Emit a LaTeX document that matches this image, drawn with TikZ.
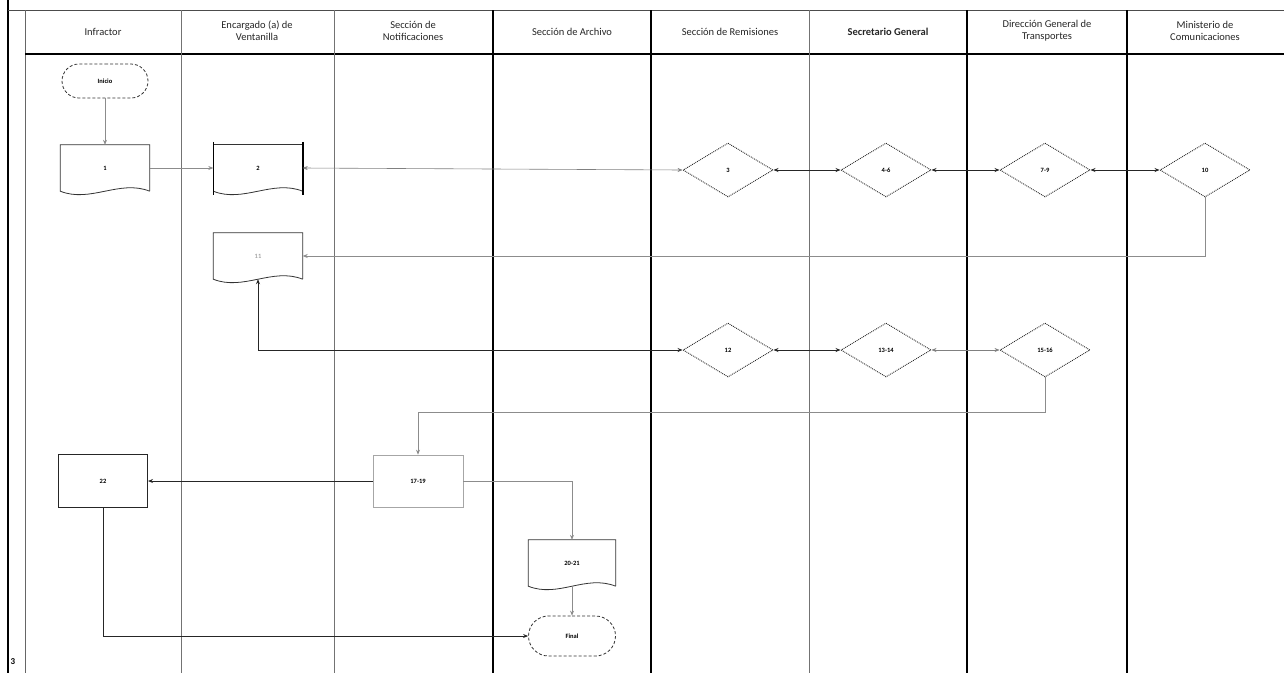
\documentclass[tikz,border=0pt]{standalone}
\usepackage{fontspec}
\setmainfont{Carlito}
\usetikzlibrary{shapes.geometric,shapes.misc,arrows.meta,calc}
\newcommand\docwave[1]{($(#1.south east)+(-30,-12)$) and ($(#1.south west)+(30,12)$) .. (#1.south west)}
\begin{document}
\begin{tikzpicture}[x=1pt,y=-1pt,
  hdr/.style={font=\fontsize{10.5}{12}\selectfont, align=center, text=black!85},
  lbl/.style={font=\fontsize{6.5}{7}\selectfont\bfseries},
  term/.style={rounded rectangle, draw=black!80, densely dashed, line width=0.8pt, minimum width=86pt, minimum height=34pt, inner sep=0pt, lbl},
  dia/.style={diamond, draw=black!85, densely dotted, line width=0.9pt, minimum width=90pt, minimum height=54pt, inner sep=0pt, lbl},
  docn/.style={minimum width=89pt, minimum height=46pt, inner sep=0pt, lbl},
  boxn/.style={rectangle, minimum width=90pt, minimum height=52pt, inner sep=0pt, lbl},
  docline/.style={draw=black!80, line width=0.8pt},
  conn/.style={line width=0.9pt, draw=black!85, -{Stealth[length=5pt,width=4pt]}},
  conn2/.style={line width=0.9pt, draw=black!85, {Stealth[length=5pt,width=4pt]}-{Stealth[length=5pt,width=4pt]}},
  lconn/.style={line width=0.6pt, draw=black!45, -{Stealth[length=5pt,width=4pt]}},
  lconn2/.style={line width=0.6pt, draw=black!50, {Stealth[length=5pt,width=4pt]}-{Stealth[length=5pt,width=4pt]}},
  lanek/.style={line width=1.1pt, draw=black},
  laneg/.style={line width=0.8pt, draw=black!55}
]
\useasboundingbox (0,0) rectangle (1284,673);
% frame
\draw[line width=1.3pt] (8,0) -- (8,673);
\draw[line width=0.8pt, black!70] (8,10) -- (1284,10);
\draw[line width=0.8pt, black!60] (25,10) -- (25,673);
\draw[line width=1.1pt] (25,54) -- (1284,54);
\draw[laneg] (181,10) -- (181,673);
\draw[laneg] (334,10) -- (334,673);
\draw[lanek] (493,10) -- (493,673);
\draw[lanek] (651,10) -- (651,673);
\draw[laneg] (809,10) -- (809,673);
\draw[lanek] (967,10) -- (967,673);
\draw[lanek] (1127,10) -- (1127,673);
\node[font=\small\bfseries] (pg) at (13,662) {3};
% headers
\node[hdr] (h1) at (103,32) {Infractor};
\node[hdr] (h2) at (257,31) {Encargado (a) de\\Ventanilla};
\node[hdr] (h3) at (413,31) {Sección de\\Notificaciones};
\node[hdr] (h4) at (572,32) {Sección de Archivo};
\node[hdr] (h5) at (730,32) {Sección de Remisiones};
\node[hdr,font=\fontsize{10.5}{12}\selectfont\bfseries] (h6) at (888,32) {Secretario General};
\node[hdr] (h7) at (1047,31) {Dirección General de\\Transportes};
\node[hdr] (h8) at (1205,31) {Ministerio de\\Comunicaciones};
% nodes
\node[term] (ini) at (105,81) {Inicio};
\node[docn] (d1) at (105,168) {1};
\draw[docline] (d1.south east) -- (d1.north east) -- (d1.north west) -- (d1.south west) .. controls ($(d1.south west)+(30,12)$) and ($(d1.south east)+(-30,-12)$) .. (d1.south east);
\node[docn] (d2) at (258,168) {2};
\draw[docline] (d2.north west) -- (d2.north east);
\draw[docline] (d2.south east) .. controls \docwave{d2};
\draw[line width=1.6pt] ($(d2.north west)+(0,-3)$) -- ($(d2.south west)+(0,4)$);
\draw[line width=1.6pt] ($(d2.north east)+(0,-3)$) -- ($(d2.south east)+(0,4)$);
\node[docn, text=black!35] (d11) at (258,256) {11};
\draw[docline] (d11.south east) -- (d11.north east) -- (d11.north west) -- (d11.south west) .. controls ($(d11.south west)+(30,12)$) and ($(d11.south east)+(-30,-12)$) .. (d11.south east);
\node[dia] (r3) at (728,170) {3};
\node[dia] (s46) at (886,170) {4-6};
\node[dia] (g79) at (1045,170) {7-9};
\node[dia] (m10) at (1205,170) {10};
\node[dia] (r12) at (728,350) {12};
\node[dia] (s1314) at (886,350) {13-14};
\node[dia] (g1516) at (1045,350) {15-16};
\node[boxn, draw=black!35, line width=0.7pt] (n1719) at (418,481) {17-19};
\node[boxn, draw=black!85, line width=1pt, minimum width=89pt, minimum height=53pt] (b22) at (103,481) {22};
\node[docn, minimum width=87pt] (d2021) at (572,563) {20-21};
\draw[docline] (d2021.south east) -- (d2021.north east) -- (d2021.north west) -- (d2021.south west) .. controls ($(d2021.south west)+(30,12)$) and ($(d2021.south east)+(-30,-12)$) .. (d2021.south east);
\node[term, minimum width=87pt, minimum height=40pt] (fin) at (572,636) {Final};
% connectors
\coordinate (k1) at (1045,412);
\draw[lconn] (ini.south) -- (d1.north);
\draw[lconn] (d1.east) -- (d2.west);
\draw[lconn2] (d2.east) -- (r3.west);
\draw[conn2] (r3.east) -- (s46.west);
\draw[conn2] (s46.east) -- (g79.west);
\draw[conn2] (g79.east) -- (m10.west);
\draw[lconn] (m10.south) |- (d11.east);
\draw[conn2] (d11.south) |- (r12.west);
\draw[conn2] (r12.east) -- (s1314.west);
\draw[lconn2] (s1314.east) -- (g1516.west);
\draw[lconn] (g1516.south) -- (k1) -| (n1719.north);
\draw[conn] (n1719.west) -- (b22.east);
\draw[lconn] (n1719.east) -| (d2021.north);
\draw[lconn] (d2021.south) -- (fin.north);
\draw[conn] (b22.south) |- (fin.west);
\end{tikzpicture}
\end{document}
